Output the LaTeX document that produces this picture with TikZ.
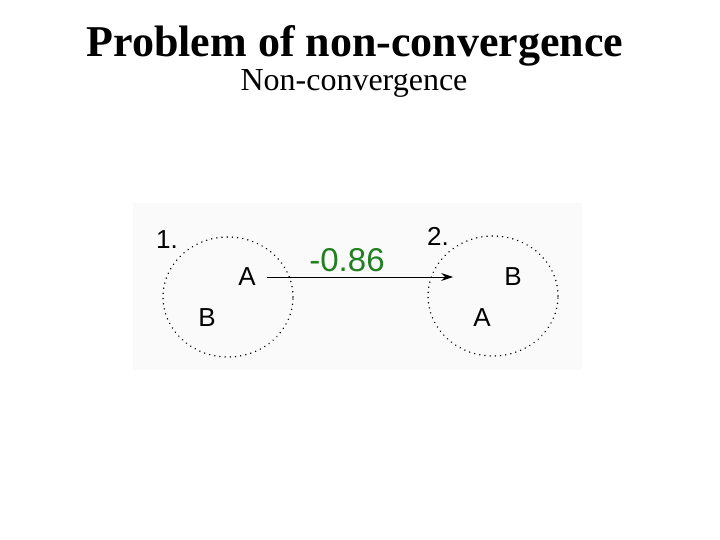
\documentclass[tikz,border=0pt]{standalone}
\usepackage{fontspec}
\setmainfont{Liberation Serif}
\newfontfamily\helv{Liberation Sans}
\usetikzlibrary{shapes.geometric,arrows.meta}
\definecolor{valgreen}{RGB}{34,128,34}
\definecolor{panelbg}{RGB}{250,250,250}
\tikzset{
  grp/.style={ellipse, draw, line width=1.6pt, dash pattern=on 0.01pt off 5.2pt, line cap=round, minimum width=130pt, minimum height=120pt, inner sep=0pt},
  lbl/.style={font=\helv\fontsize{26}{26}\selectfont, inner sep=1pt},
  num/.style={font=\helv\fontsize{26}{26}\selectfont, inner sep=1pt},
}
\begin{document}
\begin{tikzpicture}[x=1pt,y=-1pt]
\useasboundingbox (0,0) rectangle (720,540);
\fill[panelbg] (133,203) rectangle (582,370);
\node[font=\bfseries\fontsize{44}{44}\selectfont] (title) at (355,46) {Problem of non-convergence};
\node[font=\fontsize{32}{32}\selectfont] (sub) at (354,83) {Non-convergence};
\node[grp] (c1) at (228,297) {};
\node[grp] (c2) at (493,296) {};
\node[num] (n1) at (167,240) {1.};
\node[num] (n2) at (438,236) {2.};
\node[lbl] (a1) at (247,277) {A};
\node[lbl] (b1) at (207,318) {B};
\node[lbl] (b2) at (513,277) {B};
\node[lbl] (a2) at (482,318) {A};
\node[font=\helv\fontsize{33}{33}\selectfont, text=valgreen] (val) at (347,260) {-0.86};
\draw[line width=1pt, -{Stealth[length=12pt,width=8pt]}, shorten <=10pt, shorten >=50pt] (a1.east) -- (b2.west);
\end{tikzpicture}
\end{document}
